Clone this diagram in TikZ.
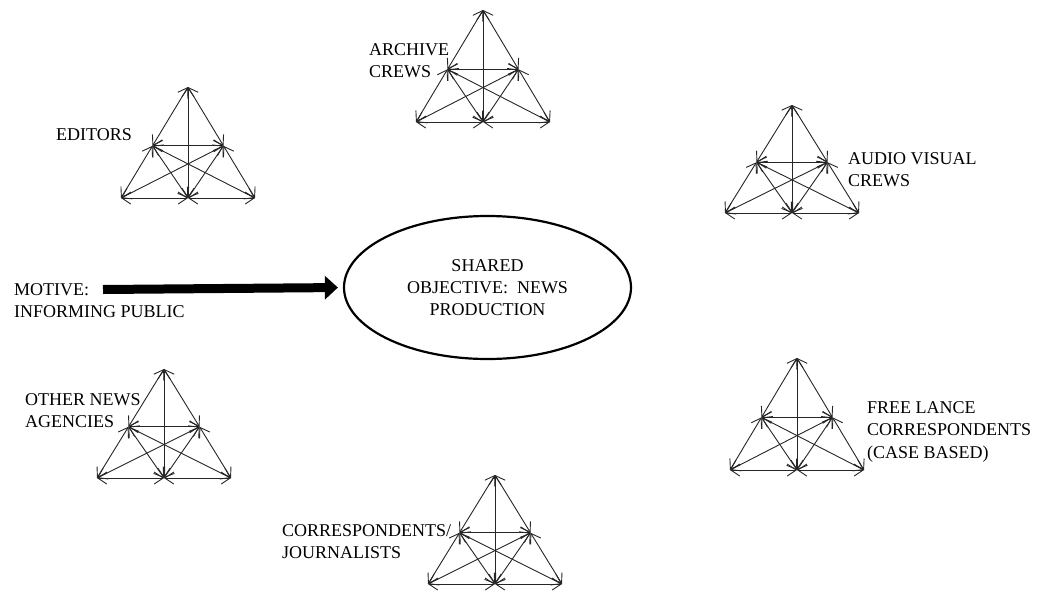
\documentclass[tikz,border=0pt]{standalone}
\usepackage{fontspec}
\setmainfont{Liberation Serif}
\usetikzlibrary{arrows.meta,shapes.geometric,calc}

% A team drawn as a triangle of six members, all linked both ways
\newcommand\teamtri[4]{% #1 name, #2 apex x, #3 apex y, #4 base y
  \coordinate (#1-t)  at (#2,#3);
  \coordinate (#1-bl) at (#2-67,#4);
  \coordinate (#1-br) at (#2+67,#4);
  \coordinate (#1-bm) at (#2,#4);
  \coordinate (#1-l)  at ($(#1-t)!0.53!(#1-bl)$);
  \coordinate (#1-r)  at ($(#1-t)!0.53!(#1-br)$);
  \foreach \a/\b in {t/l, t/r, t/bm, l/r, l/bl, r/br, bl/bm, bm/br, l/bm, r/bm, l/br, r/bl}
    \draw[link] (#1-\a) -- (#1-\b);
}

\begin{document}
\begin{tikzpicture}[x=1pt,y=-1pt,
  link/.style={draw=black!85, line width=0.9pt,
    {Straight Barb[length=9pt,width=12pt]}-{Straight Barb[length=9pt,width=12pt]}},
  lbl/.style={font=\fontsize{18}{22.5}\selectfont, align=left, inner sep=0pt, anchor=north west},
  goal/.style={ellipse, draw, line width=2.2pt, minimum width=287pt, minimum height=143pt,
    font=\fontsize{18}{22}\selectfont, align=center, inner sep=0pt},
  push/.style={line width=9pt, -{Triangle[length=13pt,width=23pt]}}
]
\useasboundingbox (0,0) rectangle (1042,592);

% centre
\node[goal] (shared) at (487.5,287.5) {SHARED\\OBJECTIVE:~ NEWS\\PRODUCTION};
\node[lbl] (motive) at (14,283) {MOTIVE:\\INFORMING PUBLIC};
\coordinate (push-start) at (103,289.5);
\draw[push, shorten >=5pt] (push-start) -- (shared.west);

% teams
\teamtri{ed}{188}{87}{198}
\teamtri{ar}{483}{10}{122}
\teamtri{av}{792}{105}{213}
\teamtri{fl}{797}{358}{470}
\teamtri{on}{164}{369}{478}
\teamtri{co}{495}{475}{584}

% labels
\node[lbl] (editors) at (56,128) {EDITORS};
\node[lbl] (archive) at (369,43) {ARCHIVE\\CREWS};
\node[lbl] (audio) at (848,152) {AUDIO VISUAL\\CREWS};
\node[lbl] (other) at (25,393) {OTHER NEWS\\AGENCIES};
\node[lbl] (free) at (867,401) {FREE LANCE\\CORRESPONDENTS\\(CASE BASED)};
\node[lbl] (corr) at (282,524) {CORRESPONDENTS/\\JOURNALISTS};
\end{tikzpicture}
\end{document}
